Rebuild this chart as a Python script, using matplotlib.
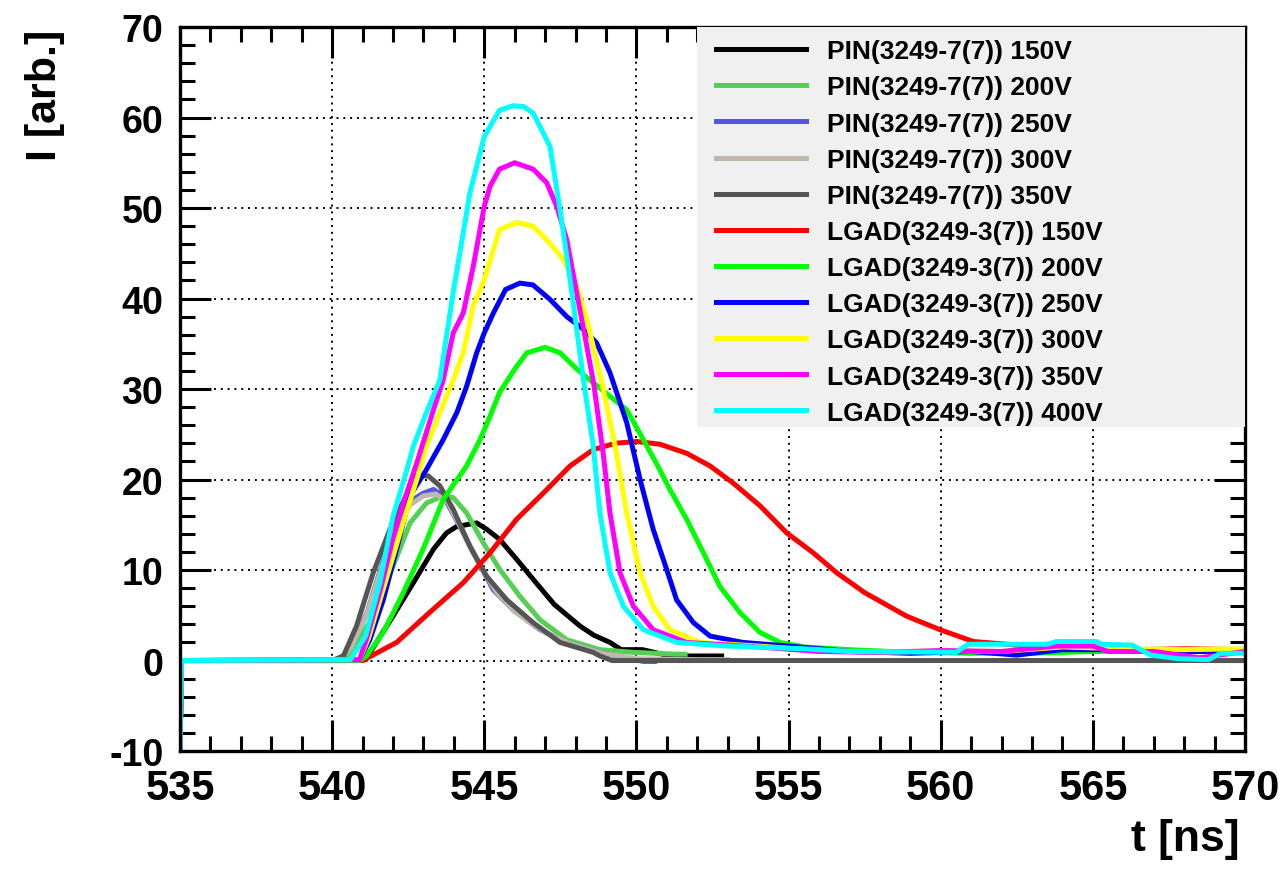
import matplotlib as mpl
import matplotlib.pyplot as plt
from matplotlib.patches import Rectangle
from matplotlib.ticker import MultipleLocator


mpl.rcParams.update(
    {
        "font.family": ["Liberation Sans", "DejaVu Sans"],
        "font.weight": "bold",
        "axes.unicode_minus": False,
        "axes.linewidth": 2.4,
        "xtick.direction": "in",
        "ytick.direction": "in",
        "xtick.top": True,
        "ytick.right": True,
        "xtick.major.size": 22,
        "xtick.minor.size": 11,
        "ytick.major.size": 22,
        "ytick.minor.size": 11,
        "xtick.major.width": 2.2,
        "xtick.minor.width": 2.2,
        "ytick.major.width": 2.2,
        "ytick.minor.width": 2.2,
    }
)

LABELS = [
    "PIN(3249-7(7)) 150V",
    "PIN(3249-7(7)) 200V",
    "PIN(3249-7(7)) 250V",
    "PIN(3249-7(7)) 300V",
    "PIN(3249-7(7)) 350V",
    "LGAD(3249-3(7)) 150V",
    "LGAD(3249-3(7)) 200V",
    "LGAD(3249-3(7)) 250V",
    "LGAD(3249-3(7)) 300V",
    "LGAD(3249-3(7)) 350V",
    "LGAD(3249-3(7)) 400V",
]

COLORS = [
    "#000000", "#55d055", "#5555dd", "#c0b8ac", "#555555",
    "#ff0000", "#00ff00", "#0000ff", "#ffff00", "#ff00ff", "#00ffff",
]

# time [ns] / current [arb.]
t_pin150 = [535, 535.05, 540.5, 541.1, 542.0, 542.67, 543.33, 543.76, 544.09, 544.4, 544.75,
            545.08, 545.5, 546.06, 546.6, 547.3, 548.15, 548.6, 549.13, 549.5, 550.2,
            551.1, 552.8]
i_pin150 = [-10, 0, 0, 0.1, 4.9, 8.6, 12.3, 14.1, 14.8, 15.0, 15.2,
            14.5, 13.4, 11.2, 9.0, 6.2, 3.8, 2.8, 2.0, 1.2, 1.2,
            0.5, 0.5]

t_pin200 = [535, 535.05, 540.3, 540.6, 541.35, 542.0, 542.56, 543.1, 543.65, 543.98, 544.42,
            544.97, 545.5, 546.17, 546.83, 547.71, 548.8, 549.9, 551.32, 551.6]
i_pin200 = [-10, 0, 0, 0.8, 4.9, 10.4, 15.2, 17.4, 18.2, 18.0, 16.3,
            13.0, 10.1, 7.1, 4.5, 2.3, 1.2, 0.9, 0.7, 0.7]

t_pin250 = [535, 535.05, 540.2, 540.6, 541.15, 541.6, 542.05, 542.56, 543.0, 543.33, 543.65,
            544.2, 544.75, 545.3, 545.95, 546.83, 547.71, 548.8, 550.23, 550.6]
i_pin250 = [-10, 0, 0, 1.4, 5.3, 10.2, 14.5, 17.6, 18.5, 18.9, 18.2,
            14.8, 11.2, 7.8, 5.6, 3.4, 2.0, 0.9, -0.1, -0.1]

t_pin300 = [535, 535.05, 540.2, 540.6, 541.15, 541.6, 542.05, 542.56, 543.0, 543.4, 543.8,
            544.3, 544.8, 545.4, 546.0, 546.9, 547.8, 548.9, 550.0, 552.0, 553.0]
i_pin300 = [-10, 0, 0, 1.3, 5.2, 10.0, 14.2, 17.2, 18.2, 18.4, 17.5,
            14.2, 10.8, 7.6, 5.4, 3.3, 1.9, 0.8, 0.2, 0.1, 0.1]

t_pin350 = [535, 535.05, 540.0, 540.37, 540.8, 541.35, 541.9, 542.4, 542.78, 543.16, 543.54,
            543.98, 544.53, 545.08, 545.74, 546.6, 547.49, 548.58, 548.8, 549.2, 570]
i_pin350 = [-10, 0, 0, 0.5, 3.8, 9.7, 14.5, 18.0, 20.4, 20.4, 19.3,
            16.7, 12.6, 9.3, 6.7, 4.2, 2.0, 0.9, 0.5, 0, 0]

t_lgad150 = [535, 535.05, 541.0, 542.12, 543.2, 544.31, 545.19, 546.06, 546.94, 547.82, 548.58,
             549.3, 550.0, 550.77, 551.65, 552.42, 553.18, 554.06, 554.94, 555.81, 556.58,
             557.5, 558.88, 559.98, 561.07, 562.17, 563.5, 565, 566.5, 568, 570]
i_lgad150 = [-10, 0, 0, 2.0, 5.3, 8.6, 11.9, 15.6, 18.5, 21.5, 23.3,
             24.0, 24.2, 23.9, 22.9, 21.5, 19.6, 17.1, 14.1, 11.9, 9.7,
             7.5, 4.9, 3.4, 2.1, 1.8, 1.4, 1.3, 1.2, 1.3, 1.2]

t_lgad200 = [535, 535.05, 540.9, 541.13, 541.68, 542.34, 542.99, 543.65, 544.42, 544.86, 545.19,
             545.5, 546.0, 546.4, 547.0, 547.49, 548.04, 548.58, 549.13, 549.68, 550.23,
             550.7, 551.1, 551.65, 552.2, 552.74, 553.4, 554.06, 554.72, 555.5, 557, 559,
             561, 563, 565, 567, 570]
i_lgad200 = [-10, 0, 0, 0.5, 3.1, 7.5, 12.3, 17.8, 21.5, 24.4, 27.0,
             29.6, 32.2, 34.0, 34.6, 34.0, 32.2, 30.7, 29.2, 27.7, 24.4,
             21.5, 18.9, 15.6, 11.9, 8.2, 5.3, 3.1, 2.0, 1.5, 1.2, 0.9,
             0.8, 0.8, 1.0, 1.0, 1.2]

t_lgad250 = [535, 535.05, 540.9, 541.24, 541.68, 542.12, 542.56, 543.1, 543.65, 544.1, 544.42,
             544.75, 545.0, 545.3, 545.7, 546.17, 546.6, 547.16, 547.71, 548.26, 548.69,
             549.13, 549.68, 550.12, 550.55, 550.99, 551.32, 551.87, 552.42, 553.5, 555,
             557, 559, 561, 562.5, 564, 566, 568, 570]
i_lgad250 = [-10, 0, 0.1, 2.3, 6.7, 12.3, 18.2, 21.1, 24.4, 27.4, 30.3,
             34.0, 36.2, 38.4, 41.0, 41.7, 41.5, 39.9, 38.0, 36.6, 35.1,
             31.8, 26.3, 20.0, 14.5, 10.1, 6.7, 4.2, 2.7, 2.0, 1.6,
             1.0, 0.8, 1.0, 0.6, 1.2, 1.2, 1.0, 1.0]

t_lgad300 = [535, 535.05, 540.9, 541.2, 541.6, 542.0, 542.4, 542.78, 543.1, 543.54, 543.98,
             544.31, 544.64, 545.0, 545.5, 546.06, 546.6, 547.16, 547.6, 548.04, 548.37,
             548.58, 548.91, 549.3, 549.68, 550.12, 550.55, 551.1, 552.09, 554, 556, 558,
             560, 562, 564, 566, 568, 570]
i_lgad300 = [-10, 0, 0.1, 2.5, 7.0, 11.5, 16.0, 20.0, 23.7, 27.4, 31.0,
             34.0, 39.2, 42.1, 47.6, 48.4, 48.0, 46.1, 44.3, 41.4, 37.7,
             34.7, 30.0, 23.7, 16.3, 9.7, 6.0, 3.4, 2.0, 1.6, 1.1, 0.9,
             1.1, 1.0, 1.5, 1.3, 1.2, 1.3]

t_lgad350 = [535, 535.05, 540.9, 541.15, 541.6, 542.0, 542.4, 542.78, 543.33, 543.65, 543.98,
             544.31, 544.64, 545.0, 545.19, 545.5, 546.0, 546.6, 547.05, 547.38, 547.71,
             548.04, 548.37, 548.6, 548.91, 549.13, 549.46, 549.9, 550.55, 551.65, 554,
             556, 558, 560, 562, 563.8, 565.0, 565.5, 567, 568.5, 570]
i_lgad350 = [-10, 0, 0.1, 2.6, 8.0, 13.5, 18.0, 21.8, 27.7, 31.0, 36.2,
             38.4, 43.6, 50.2, 52.4, 54.3, 55.0, 54.3, 52.8, 50.2, 46.5,
             40.6, 34.7, 30.5, 22.8, 16.3, 9.7, 6.0, 3.4, 2.0, 1.5,
             1.0, 0.9, 1.1, 1.0, 1.6, 1.6, 1.0, 1.0, 0.3, 1.0]

t_lgad400 = [535, 535.05, 540.6, 541.1, 541.57, 542.0, 542.45, 542.67, 543.1, 543.54, 543.98,
             544.53, 545.0, 545.5, 545.94, 546.3, 546.6, 546.83, 547.16, 547.49, 547.82,
             548.26, 548.58, 548.8, 549.13, 549.57, 550.23, 551.32, 552.96, 555.5, 557.0,
             560.5, 560.9, 563.5, 563.8, 565.1, 565.3, 566.3, 566.9, 567.8, 568.8, 569.2,
             570.0]
i_lgad400 = [-10, 0, 0.1, 2.7, 8.6, 15.9, 21.0, 23.7, 27.4, 31.0, 40.7,
             51.7, 57.9, 60.8, 61.3, 61.2, 60.5, 59.0, 56.8, 49.8, 42.1,
             31.0, 23.7, 16.3, 9.7, 6.0, 3.4, 2.0, 1.6, 1.3, 1.0,
             0.9, 1.8, 1.8, 2.1, 2.1, 1.8, 1.7, 0.6, 0.2, 0.1, 0.8,
             0.8]

SERIES = [
    (t_pin150, i_pin150), (t_pin200, i_pin200), (t_pin250, i_pin250),
    (t_pin300, i_pin300), (t_pin350, i_pin350),
    (t_lgad150, i_lgad150), (t_lgad200, i_lgad200), (t_lgad250, i_lgad250),
    (t_lgad300, i_lgad300), (t_lgad350, i_lgad350), (t_lgad400, i_lgad400),
]


def main():
    fig = plt.figure(figsize=(12.8, 8.7), dpi=100)
    ax = fig.add_axes([0.1406, 0.1356, 0.8321, 0.8322])

    for (t, i), c, lab in zip(SERIES, COLORS, LABELS):
        ax.plot(t, i, color=c, lw=3.6, label=lab, solid_joinstyle="miter")

    ax.set_xlim(535, 570)
    ax.set_ylim(-10, 70)
    ax.xaxis.set_major_locator(MultipleLocator(5))
    ax.xaxis.set_minor_locator(MultipleLocator(1))
    ax.yaxis.set_major_locator(MultipleLocator(10))
    ax.yaxis.set_minor_locator(MultipleLocator(2))
    ax.grid(True, which="major", color="black", lw=1.4, ls=(0, (1, 2.5)))
    ax.set_axisbelow(True)

    ax.tick_params(axis="x", pad=12)
    ax.tick_params(axis="y", pad=12)
    for lab in ax.get_xticklabels():
        lab.set_fontsize(30)
        lab.set_fontweight("bold")
    for lab in ax.get_yticklabels():
        lab.set_fontsize(27)
        lab.set_fontweight("bold")

    ax.set_xlabel("t [ns]", fontsize=32, fontweight="bold", ha="right", va="top")
    ax.set_ylabel("I [arb.]", fontsize=31, fontweight="bold", ha="right", va="center")
    ax.xaxis.set_label_coords(0.995, -0.093)
    ax.yaxis.set_label_coords(-0.127, 0.997)

    # legend box (ROOT-style grey pad in the upper right)
    box = Rectangle((0.4854, 0.4475), 0.5146, 0.5525, transform=ax.transAxes,
                    facecolor="#f0f0f0", edgecolor="none", zorder=4)
    ax.add_patch(box)
    leg = ax.legend(
        loc="upper left",
        bbox_to_anchor=(0.5033, 0.983),
        frameon=False,
        borderaxespad=0,
        borderpad=0,
        prop={"weight": "bold", "size": 19},
        handlelength=3.4,
        handletextpad=0.8,
        labelspacing=0.46,
    )
    leg.set_zorder(5)

    fig.savefig("out.png", dpi=100, facecolor="white")
    plt.close(fig)


if __name__ == "__main__":
    main()
